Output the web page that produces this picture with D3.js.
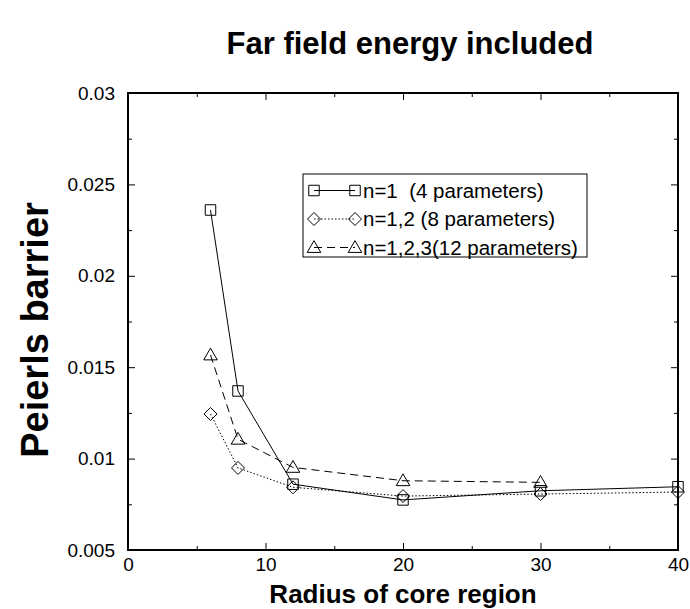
<!DOCTYPE html>
<html><head><meta charset="utf-8">
<script src="https://cdn.jsdelivr.net/npm/d3@7"></script>
<style>body{margin:0;background:#fff}svg{display:block;font-family:"Liberation Sans",Arial,sans-serif}</style>
</head><body><svg id="c" width="690" height="609"></svg>
<script>
const title = "Far field energy included";
const xLabel = "Radius of core region";
const yLabel = "Peierls barrier";
const xTickLabels = [0, 10, 20, 30, 40];
const yTickLabels = [0.005, 0.01, 0.015, 0.02, 0.025, 0.03];
const radiusN1 = [6, 8, 12, 20, 30, 40];
const barrierN1 = [0.0236, 0.0137, 0.0086, 0.00774, 0.00824, 0.00846];
const radiusN12 = [6, 8, 12, 20, 30, 40];
const barrierN12 = [0.01244, 0.00949, 0.00843, 0.00795, 0.00806, 0.00817];
const radiusN123 = [6, 8, 12, 20, 30];
const barrierN123 = [0.01567, 0.01106, 0.00952, 0.00879, 0.0087];
const seriesNames = ["n=1  (4 parameters)", "n=1,2 (8 parameters)", "n=1,2,3(12 parameters)"];

const FONT = '"Liberation Sans",Arial,sans-serif';
const svg = d3.select("#c");
const L = 128, R = 678, T = 93, B = 550;
const x = d3.scaleLinear().domain([0, 40]).range([L, R]);
const y = d3.scaleLinear().domain([0.005, 0.03]).range([B, T]);

const series = [
  {xs: radiusN1, ys: barrierN1, sym: d3.symbolSquare, size: 110, dash: null, name: seriesNames[0]},
  {xs: radiusN12, ys: barrierN12, sym: "diamond", size: 0, dash: "1.5,2", name: seriesNames[1]},
  {xs: radiusN123, ys: barrierN123, sym: d3.symbolTriangle, size: 80, dash: "8,5", name: seriesNames[2]}
];

function drawMarker(g, s, cx, cy) {
  if (s.sym === "diamond") {
    const r = 6.5;
    g.append("path").attr("d", `M${cx},${cy-r}L${cx+r},${cy}L${cx},${cy+r}L${cx-r},${cy}Z`)
      .attr("fill", "none").attr("stroke", "#000").attr("stroke-width", 1);
  } else {
    g.append("path").attr("d", d3.symbol().type(s.sym).size(s.size)())
      .attr("transform", `translate(${cx},${cy + (s.sym === d3.symbolTriangle ? 1 : 0)})`)
      .attr("fill", "none").attr("stroke", "#000").attr("stroke-width", 1);
  }
}

// axes
const tickVals = d3.range(0, 41, 5);
const yTickVals = d3.range(0, 11).map(i => 0.005 + i * 0.0025);
const isYLabel = d => yTickLabels.some(v => Math.abs(v - d) < 1e-9);
const isXLabel = d => xTickLabels.includes(d);
const ax = svg.append("g");
function setLen(g, fn, isMajor) {
  g.selectAll(".tick").each(function(d) {
    const len = isMajor(d) ? 7 : 4;
    const ln = d3.select(this).select("line");
    fn(ln, len);
  });
}
ax.append("g").attr("transform", `translate(0,${B})`)
  .call(d3.axisBottom(x).tickValues(tickVals).tickSize(-4).tickFormat(d => isXLabel(d) ? d : ""))
  .call(g => { g.select(".domain").remove(); g.selectAll("text").attr("dy", "0").attr("y", 21);
    setLen(g, (ln, l) => ln.attr("y2", -l), isXLabel); });
ax.append("g").attr("transform", `translate(0,${T})`)
  .call(d3.axisTop(x).tickValues(tickVals).tickSize(-4).tickFormat(""))
  .call(g => { g.select(".domain").remove(); setLen(g, (ln, l) => ln.attr("y2", l), isXLabel); });
ax.append("g").attr("transform", `translate(${L},0)`)
  .call(d3.axisLeft(y).tickValues(yTickVals).tickSize(-4).tickFormat(d => isYLabel(d) ? d3.format("")(+d.toFixed(4)) : "").tickPadding(13))
  .call(g => { g.select(".domain").remove(); setLen(g, (ln, l) => ln.attr("x2", l), isYLabel); });
ax.append("g").attr("transform", `translate(${R},0)`)
  .call(d3.axisRight(y).tickValues(yTickVals).tickSize(-4).tickFormat(""))
  .call(g => { g.select(".domain").remove(); setLen(g, (ln, l) => ln.attr("x2", -l), isYLabel); });
ax.selectAll(".tick line").attr("stroke", "#000");
ax.selectAll("text").attr("font-size", 19).attr("fill", "#000").attr("font-family", FONT);
svg.append("rect").attr("x", L).attr("y", T).attr("width", R - L).attr("height", B - T)
  .attr("fill", "none").attr("stroke", "#000").attr("stroke-width", 2);

// lines and markers
series.forEach(s => {
  const pts = s.xs.map((v, i) => [x(v), y(s.ys[i])]);
  svg.append("path").attr("d", d3.line()(pts)).attr("fill", "none").attr("stroke", "#000")
    .attr("stroke-width", 1).attr("stroke-dasharray", s.dash);
  const g = svg.append("g");
  pts.forEach(p => drawMarker(g, s, p[0], p[1]));
});

// legend
svg.append("rect").attr("x", 303).attr("y", 174).attr("width", 284).attr("height", 83)
  .attr("fill", "#fff").attr("stroke", "#000").attr("stroke-width", 1);
series.forEach((s, i) => {
  const ly = 190.5 + i * 28.5;
  const g = svg.append("g");
  g.append("line").attr("x1", 314).attr("x2", 355).attr("y1", ly).attr("y2", ly)
    .attr("stroke", "#000").attr("stroke-width", 1).attr("stroke-dasharray", s.dash);
  drawMarker(g, s, 314, ly);
  drawMarker(g, s, 355, ly);
  g.append("text").attr("x", 363).attr("y", ly + 7).attr("font-size", 20.5).attr("font-family", FONT)
    .style("white-space", "pre").text(s.name);
});

// titles
svg.append("text").attr("x", 410).attr("y", 54).attr("text-anchor", "middle")
  .attr("font-size", 31).attr("font-weight", "bold").attr("font-family", FONT).text(title);
svg.append("text").attr("x", 403).attr("y", 603).attr("text-anchor", "middle")
  .attr("font-size", 26).attr("font-weight", "bold").attr("font-family", FONT).text(xLabel);
svg.append("text").attr("transform", "translate(48,330) rotate(-90)").attr("text-anchor", "middle")
  .attr("font-size", 38).attr("font-weight", "bold").attr("font-family", FONT).text(yLabel);
</script></body></html>
